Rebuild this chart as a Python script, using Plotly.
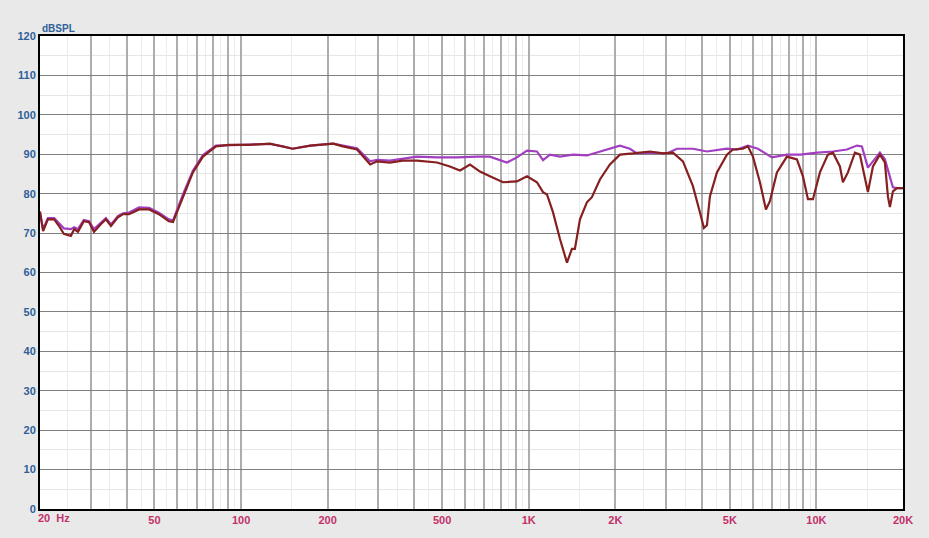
import plotly.graph_objects as go

# ---- data ----
low_freq_hz = [20, 20.5, 21.3, 22.4, 23.3, 24.2, 25.6, 26.3, 27.1, 28.4, 29.6, 30.8,
               32.6, 33.9, 35.3, 37.3, 38.9, 40.8, 44.2, 47.9, 51.8, 56.1, 58.0, 62.8,
               68.0, 73.7, 81.8, 90.8, 107, 126, 140, 151, 174, 209, 226, 253]
red_low_db = [75.5, 70.5, 73.5, 73.5, 71.8, 69.8, 69.3, 71, 70.3, 73, 72.8, 70.3,
              72.3, 73.5, 71.8, 74, 74.8, 74.8, 76, 76, 74.8, 73, 72.8, 79.3,
              85.4, 89.4, 92, 92.4, 92.4, 92.7, 92, 91.4, 92.2, 92.7, 92, 91.2]
purple_low_db = [75, 71, 73.8, 73.8, 72.5, 71.2, 71, 71.5, 71, 73.3, 73, 71,
                 72.7, 73.8, 72.2, 74.3, 75, 75.2, 76.5, 76.4, 75.2, 73.5, 73.2, 79.8,
                 85.8, 89.8, 92.2, 92.3, 92.3, 92.6, 92, 91.4, 92.2, 92.7, 92.2, 91.5]

red_hi_hz = [281, 297, 329, 365, 409, 480, 532, 577, 625, 677, 733, 814, 910, 986,
             1068, 1121, 1157, 1214, 1284, 1358, 1413, 1447, 1507, 1593, 1658, 1768,
             1915, 2075, 2302, 2638, 2928, 3172, 3436, 3722, 3936, 4064, 4164, 4264,
             4510, 4886, 5126, 5552, 5780, 6016, 6364, 6676, 6892, 7290, 7898, 8558,
             8978, 9346, 9726, 10286, 10966, 11414, 12072, 12364, 12870, 13610, 14166,
             14746, 15104, 15722, 16626, 17304, 17724, 18010, 18448, 19048, 20000]
red_hi_db = [87.4, 88.2, 87.9, 88.4, 88.4, 87.9, 86.9, 85.9, 87.4, 85.6, 84.4, 82.9, 83.1, 84.4,
             82.9, 80.4, 79.8, 75.3, 68.5, 62.5, 66, 66, 73.5, 77.8, 79.1, 83.6,
             87.4, 89.9, 90.2, 90.7, 90.2, 90.4, 88.2, 81.9, 75.3, 71.3, 72, 79.3,
             85.4, 89.9, 91.2, 91.4, 92, 89.4, 82.9, 76, 78.1, 85.4, 89.4, 88.7,
             84.4, 78.6, 78.6, 85.4, 89.9, 90.4, 86.9, 82.9, 85.4, 90.4, 89.9,
             83.6, 80.4, 86.9, 89.9, 87.9, 79.3, 76.6, 80.6, 81.4, 81.4]

purple_hi_hz = [281, 297, 329, 365, 409, 480, 563, 661, 733, 839, 910, 986, 1068, 1121,
                1185, 1284, 1425, 1593, 1768, 1915, 2075, 2248, 2378, 2638, 3022, 3274,
                3722, 4164, 4368, 4886, 5292, 5780, 6262, 7004, 7898, 8790, 10068, 11414,
                12766, 13832, 14392, 15104, 15722, 16626, 17304, 18448, 19048, 20000]
purple_hi_db = [88.2, 88.6, 88.4, 88.8, 89.4, 89.2, 89.2, 89.4, 89.4, 87.9, 89.2, 90.9, 90.7, 88.5,
                89.9, 89.4, 89.9, 89.7, 90.7, 91.4, 92.2, 91.4, 90.2, 90.4, 90.2, 91.4,
                91.4, 90.7, 90.9, 91.4, 91.2, 92.2, 91.4, 89.2, 89.9, 89.9, 90.4, 90.7,
                91.2, 92.2, 92.0, 86.6, 88.2, 90.4, 88.7, 81.6, 81.4, 81.4]

x_label_vals = [50, 100, 200, 500, 1000, 2000, 5000, 10000, 20000]
x_label_text = ["50", "100", "200", "500", "1K", "2K", "5K", "10K", "20K"]
y_tick_vals = list(range(0, 121, 10))

# ---- grid positions ----
major_x = []
minor_x = []
for dec in [10, 100, 1000, 10000]:
    for m in range(1, 10):
        v = m * dec
        if 20 <= v <= 20000:
            major_x.append(v)
        h = (m + 0.5) * dec
        if 20 <= h <= 20000:
            minor_x.append(h)
tick_text = [x_label_text[x_label_vals.index(v)] if v in x_label_vals else "" for v in major_x]

fig = go.Figure()
fig.add_trace(go.Scatter(x=low_freq_hz + purple_hi_hz, y=purple_low_db + purple_hi_db,
                         mode="lines", line=dict(color="#a23fc0", width=2.2), showlegend=False))
fig.add_trace(go.Scatter(x=low_freq_hz + red_hi_hz, y=red_low_db + red_hi_db,
                         mode="lines", line=dict(color="#861f1f", width=2.2), showlegend=False))

fig.update_layout(
    width=929, height=538,
    margin=dict(l=40, r=26, t=36, b=26),
    paper_bgcolor="#e9e9e9",
    plot_bgcolor="white",
    font=dict(family="Liberation Sans, Arial, sans-serif"),
    xaxis=dict(
        type="log", range=[1.30103, 4.30103],
        tickmode="array", tickvals=major_x, ticktext=tick_text,
        showgrid=True, gridcolor="#adadad", gridwidth=1.5,
        minor=dict(tickmode="array", tickvals=minor_x, showgrid=True,
                   gridcolor="#ececec", gridwidth=1, ticks=""),
        ticks="", ticklen=0,
        tickfont=dict(color="#c2306a", size=11, family="Liberation Sans, Arial, sans-serif", weight="bold"),
        showline=True, linecolor="black", linewidth=2, mirror=True,
        zeroline=False,
    ),
    yaxis=dict(
        range=[0, 120], tickmode="array", tickvals=y_tick_vals,
        showgrid=True, gridcolor="#808080", gridwidth=1.2,
        minor=dict(dtick=5, showgrid=True, gridcolor="#e6e6e6", gridwidth=1, ticks=""),
        ticks="", ticklen=0,
        tickfont=dict(color="#2f5f9a", size=11, family="Liberation Sans, Arial, sans-serif", weight="bold"),
        showline=True, linecolor="black", linewidth=2, mirror=True,
        zeroline=False,
    ),
    annotations=[
        dict(text="dBSPL", xref="paper", yref="paper", x=0, y=1, xanchor="left", yanchor="bottom",
             showarrow=False, yshift=0, font=dict(color="#2f5f9a", size=10, weight="bold")),
        dict(text="20  Hz", xref="paper", yref="paper", x=0, y=0, xanchor="left", yanchor="top",
             showarrow=False, xshift=-4, yshift=-1, font=dict(color="#c2306a", size=11, weight="bold")),
    ],
)

fig.write_html("out.html", config={"displayModeBar": False},
               post_script="document.body.style.margin='0';document.body.style.background='#e9e9e9';")
